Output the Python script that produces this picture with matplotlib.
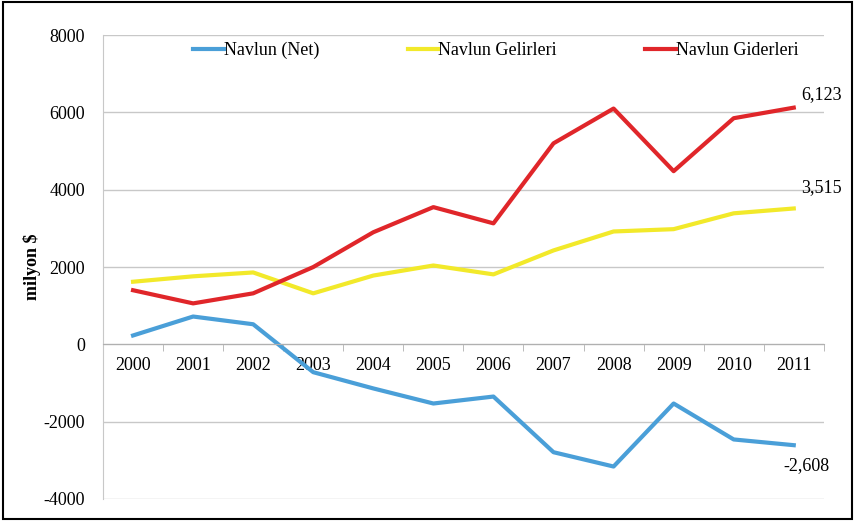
import numpy as np
import matplotlib
matplotlib.use('Agg')
import matplotlib.pyplot as plt
from matplotlib.patches import Rectangle

plt.rcParams['font.family'] = ['Liberation Serif', 'DejaVu Serif']
plt.rcParams['axes.unicode_minus'] = False

years = ['2000', '2001', '2002', '2003', '2004', '2005',
         '2006', '2007', '2008', '2009', '2010', '2011']
net = [230, 720, 520, -720, -1140, -1530, -1350, -2790, -3160, -1530, -2460, -2608]
gelir = [1620, 1760, 1860, 1320, 1780, 2040, 1810, 2430, 2920, 2980, 3390, 3515]
gider = [1400, 1060, 1320, 2000, 2900, 3550, 3130, 5200, 6100, 4480, 5850, 6123]

fig = plt.figure(figsize=(8.55, 5.23), dpi=100)
ax = fig.add_axes([0.1205, 0.0459, 0.843, 0.887])

x = np.arange(len(years))
ax.plot(x, net, color='#4a9fd8', lw=3, label='Navlun (Net)')
ax.plot(x, gelir, color='#f2e92a', lw=3, label='Navlun Gelirleri')
ax.plot(x, gider, color='#e0262a', lw=3, label='Navlun Giderleri')

ax.set_xlim(-0.5, len(years) - 0.5)
ax.set_ylim(-4000, 8000)
ax.set_yticks(np.arange(-4000, 8001, 2000))
ax.tick_params(axis='y', length=0, labelsize=13, pad=13)
ax.grid(axis='y', color='#c8c8c8', lw=1)
ax.set_axisbelow(True)

# category axis sits on the zero line, labels just below it
ax.spines['bottom'].set_position(('data', 0))
ax.spines['bottom'].set_color('#b0b0b0')
ax.spines['left'].set_color('#c8c8c8')
for s in ['top', 'right']:
    ax.spines[s].set_visible(False)
ax.set_xticks(x)
ax.set_xticklabels(years)
ax.set_xticks(np.arange(-0.5, len(years)), minor=True)
ax.tick_params(axis='x', which='major', length=0, labelsize=13, pad=9)
ax.tick_params(axis='x', which='minor', length=5, color='#b0b0b0')

ax.set_ylabel('milyon $', fontsize=13, fontweight='bold', labelpad=2)

ax.annotate(f'{gider[-1]:,}', (x[-1], gider[-1]), xytext=(20, 6),
            textcoords='offset points', fontsize=13, ha='center')
ax.annotate(f'{gelir[-1]:,}', (x[-1], gelir[-1]), xytext=(20, 12),
            textcoords='offset points', fontsize=13, ha='center')
ax.annotate(f'{net[-1]:,}', (x[-1], net[-1]), xytext=(9, -18),
            textcoords='offset points', fontsize=13, ha='center')

ax.legend(loc='upper center', bbox_to_anchor=(0.545, 1.02), ncol=3, frameon=False,
          fontsize=13, handlelength=1.7, handletextpad=0.0, columnspacing=4.9)

fig.patches.append(Rectangle((0.003, 0.008), 0.993, 0.988, transform=fig.transFigure,
                             fill=False, edgecolor='black', lw=1.5))

fig.savefig('out.png', dpi=100)
